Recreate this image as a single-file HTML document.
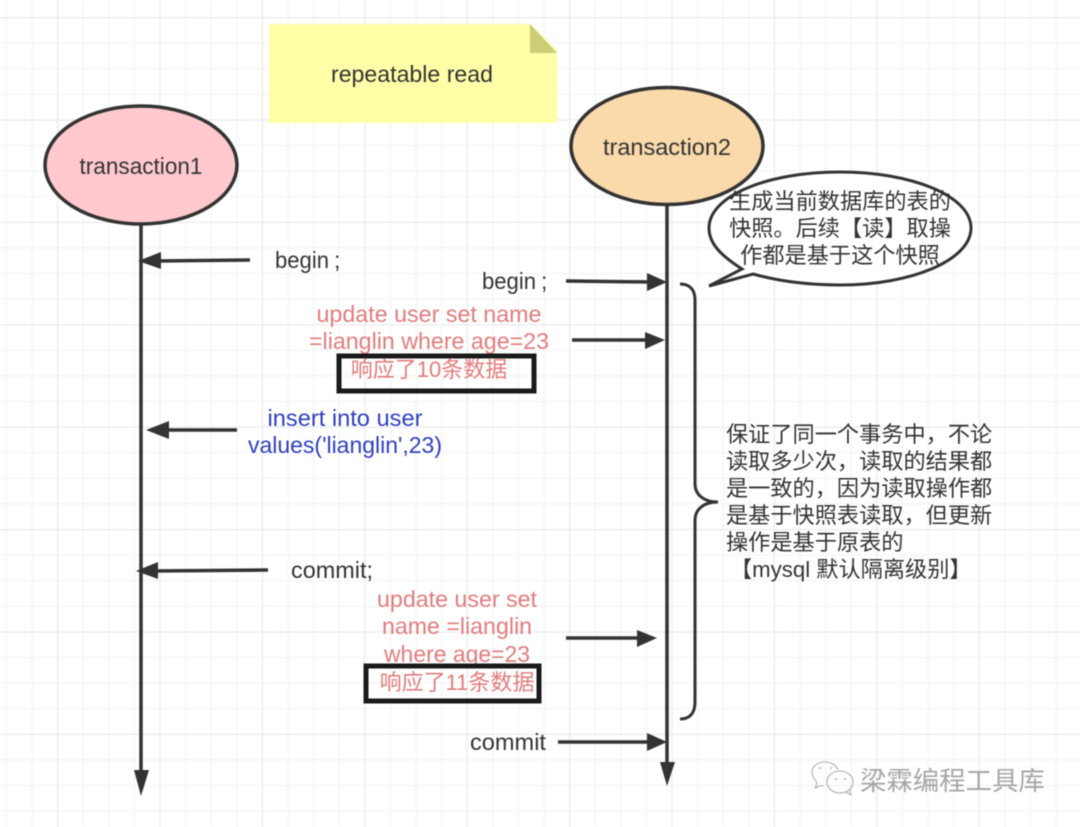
<!DOCTYPE html>
<html><head><meta charset="utf-8">
<style>
html,body{margin:0;padding:0;background:#fff}
svg{display:block;filter:blur(0.45px)}
text{font-family:"Liberation Sans","Noto Sans CJK SC",sans-serif;font-size:23px;fill:#333}
.cn{font-size:22.2px}
.r{fill:#e27c7c}
.b{fill:#2f3fc0}
</style></head>
<body>
<svg width="1080" height="827" viewBox="0 0 1080 827" xmlns="http://www.w3.org/2000/svg">
<defs>
<pattern id="minor" x="6" y="17" width="25.6" height="25.6" patternUnits="userSpaceOnUse"><path d="M0 0V25.6M0 0H25.6" fill="none" stroke="#f2f2f2" stroke-width="2"/></pattern>
<pattern id="major" x="57" y="17" width="102.4" height="102.4" patternUnits="userSpaceOnUse"><path d="M0 0V102.4M0 0H102.4" fill="none" stroke="#ebebeb" stroke-width="2.5"/></pattern>
</defs>
<rect width="1080" height="827" fill="#fff"/>
<rect width="1080" height="827" fill="url(#minor)"/>
<rect width="1080" height="827" fill="url(#major)"/>

<path d="M269 24H530L557 50V123H269Z" fill="#ffffa8"/>
<path d="M530 24L557 53H530Z" fill="#cdcd78"/>
<text x="412" y="82" text-anchor="middle" textLength="162" lengthAdjust="spacingAndGlyphs">repeatable read</text>

<g stroke="#333" fill="none" stroke-width="3.5">
<path d="M141 224V772"/>
<path d="M667 205V764"/>
<path d="M250 260L155 261"/>
<path d="M566 281L652 282"/>
<path d="M572 340L650 340"/>
<path d="M237 430L160 430"/>
<path d="M268 570L152 571"/>
<path d="M566 638L643 638"/>
<path d="M558 742L652 742"/>
<path d="M680 284C690 284 695 290 695 300V484C695 494 703 502 718 502C703 502 695 510 695 520V702C695 713 690 719 680 719" stroke-width="3"/>
</g>
<g fill="#333">
<path d="M134 770H149L141 796Z"/>
<path d="M660 762H675L667 786Z"/>
<path d="M138 261L161 252V269Z"/>
<path d="M667 282L647 273V291Z"/>
<path d="M665 340L645 332V349Z"/>
<path d="M146 430L169 421V439Z"/>
<path d="M136 571L158 562V579Z"/>
<path d="M657 638L637 630V647Z"/>
<path d="M667 742L647 733V751Z"/>
</g>

<ellipse cx="141" cy="165" rx="96" ry="59" fill="#ffc9ce" stroke="#333" stroke-width="3.5"/>
<text x="141" y="174" text-anchor="middle" textLength="123" lengthAdjust="spacingAndGlyphs">transaction1</text>
<ellipse cx="667" cy="146" rx="96" ry="58.5" fill="#fad9ab" stroke="#333" stroke-width="3.5"/>
<text x="667" y="155" text-anchor="middle" textLength="128" lengthAdjust="spacingAndGlyphs">transaction2</text>

<path d="M709 286L742 269C720 255 709 243 709 228C709 196 767 172 840 172C912 172 971 196 971 228C971 260 912 285 840 285C805 285 778 281 753 274Z" fill="#fff" stroke="#333" stroke-width="3"/>
<text class="cn" x="840" y="209" text-anchor="middle">生成当前数据库的表的</text>
<text class="cn" x="840" y="236" text-anchor="middle">快照。后续【读】取操</text>
<text class="cn" x="840" y="263" text-anchor="middle">作都是基于这个快照</text>

<text x="275" y="268" textLength="54" lengthAdjust="spacingAndGlyphs">begin</text>
<text x="334" y="268">;</text>
<text x="482" y="289" textLength="54" lengthAdjust="spacingAndGlyphs">begin</text>
<text x="541" y="289">;</text>

<text class="r" x="429" y="322" text-anchor="middle" textLength="225" lengthAdjust="spacingAndGlyphs">update user set name</text>
<text class="r" x="429" y="349" text-anchor="middle" textLength="240" lengthAdjust="spacingAndGlyphs">=lianglin where age=23</text>
<rect x="339" y="356" width="195" height="35" fill="none" stroke="#1a1a1a" stroke-width="5"/>
<text class="r" x="429" y="377" text-anchor="middle" style="font-size:22px">响应了10条数据</text>

<text class="b" x="345" y="426" text-anchor="middle" textLength="155" lengthAdjust="spacingAndGlyphs">insert into user</text>
<text class="b" x="345" y="453" text-anchor="middle" textLength="194" lengthAdjust="spacingAndGlyphs">values('lianglin',23)</text>

<text x="291" y="578" textLength="82" lengthAdjust="spacingAndGlyphs">commit;</text>

<text class="r" x="457" y="607" text-anchor="middle" textLength="160" lengthAdjust="spacingAndGlyphs">update user set</text>
<text class="r" x="457" y="634" text-anchor="middle" textLength="150" lengthAdjust="spacingAndGlyphs">name =lianglin</text>
<text class="r" x="457" y="662" text-anchor="middle" textLength="146" lengthAdjust="spacingAndGlyphs">where age=23</text>
<rect x="366" y="666" width="173" height="35" fill="none" stroke="#1a1a1a" stroke-width="5"/>
<text class="r" x="457" y="690" text-anchor="middle" style="font-size:22px">响应了11条数据</text>

<text x="508" y="750" text-anchor="middle" textLength="76" lengthAdjust="spacingAndGlyphs">commit</text>

<text class="cn" x="726" y="442">保证了同一个事务中，不论</text>
<text class="cn" x="726" y="469">读取多少次，读取的结果都</text>
<text class="cn" x="726" y="496">是一致的，因为读取操作都</text>
<text class="cn" x="726" y="523">是基于快照表读取，但更新</text>
<text class="cn" x="726" y="550">操作是基于原表的</text>
<text class="cn" x="730" y="577">【mysql 默认隔离级别】</text>

<g fill="none" stroke="#b0b0b0" stroke-width="1.1">
<path d="M824 786C818 785 819 787 815 788C817 785 817 783 816 781C813 778 812 775 812 772C812 766 818 762 825 762C831 762 836 765 838 770"/>
<ellipse cx="840" cy="782" rx="13" ry="11"/>
<path d="M846 792L851 795L850 790"/>
</g>
<g fill="#b0b0b0">
<circle cx="820" cy="768" r="1"/><circle cx="831" cy="768" r="1"/>
<circle cx="836" cy="779" r="1"/><circle cx="845" cy="779" r="1"/>
</g>
<text x="860" y="790" style="font-size:26.4px;fill:#a6a6a6">梁霖编程工具库</text>
</svg>
</body></html>
